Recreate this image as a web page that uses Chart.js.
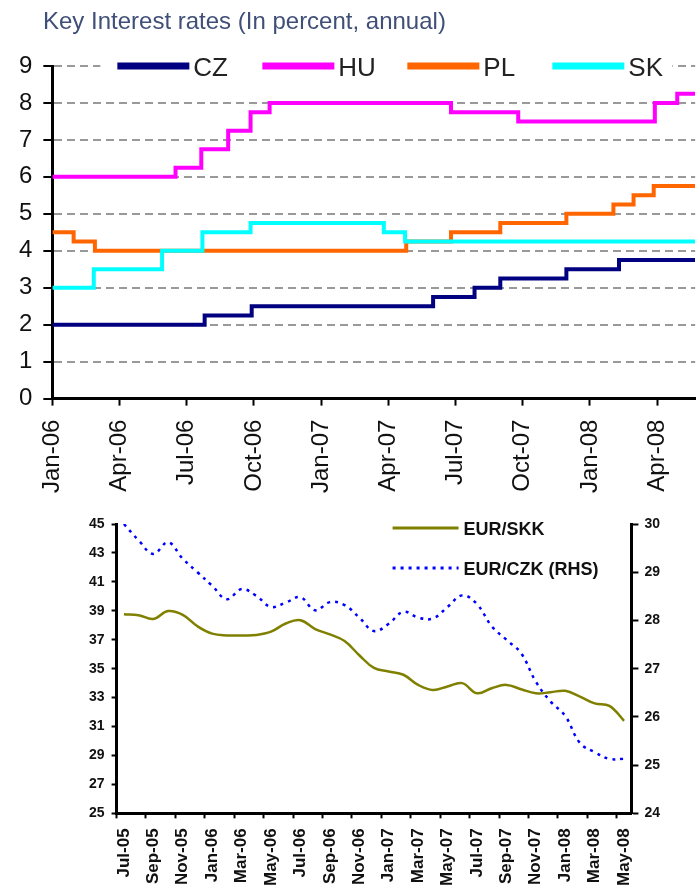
<!DOCTYPE html>
<html>
<head>
<meta charset="utf-8">
<script src="https://cdn.jsdelivr.net/npm/chart.js@4.4.1/dist/chart.umd.min.js"></script>
<style>
  body { margin: 0; width: 700px; height: 893px; overflow: hidden; background: #fff; }
  #rates { position: absolute; left: 0; top: 0; z-index: 2; }
  #fx { position: absolute; left: 0; top: 495px; z-index: 1; }
</style>
</head>
<body>
<canvas id="rates" width="700" height="507"></canvas>
<canvas id="fx" width="700" height="420"></canvas>
<script>
// key rates: month (0 = Jan-06) at which a rate starts, and the rate itself
const czStart = [0, 6.8, 8.9, 17.0, 18.85, 20.0, 22.95, 25.3];
const czRate  = [2.0, 2.25, 2.5, 2.75, 3.0, 3.25, 3.5, 3.75];
const huStart = [0, 5.5, 6.65, 7.85, 8.85, 9.7, 17.8, 20.8, 26.9, 27.9];
const huRate  = [6.0, 6.25, 6.75, 7.25, 7.75, 8.0, 7.75, 7.5, 8.0, 8.25];
const plStart = [0, 0.95, 1.9, 15.8, 17.8, 20.0, 22.95, 25.05, 25.95, 26.85];
const plRate  = [4.5, 4.25, 4.0, 4.25, 4.5, 4.75, 5.0, 5.25, 5.5, 5.75];
const skStart = [0, 1.85, 4.9, 6.7, 8.85, 14.8, 15.75];
const skRate  = [3.0, 3.5, 4.0, 4.5, 4.75, 4.5, 4.25];
const rateEnd = 28.7;
const rateTickLabels = ['Jan-06', 'Apr-06', 'Jul-06', 'Oct-06', 'Jan-07', 'Apr-07',
                        'Jul-07', 'Oct-07', 'Jan-08', 'Apr-08'];

// exchange rates, monthly
const fxMonths = ['Jul-05', 'Aug-05', 'Sep-05', 'Oct-05', 'Nov-05', 'Dec-05',
                  'Jan-06', 'Feb-06', 'Mar-06', 'Apr-06', 'May-06', 'Jun-06',
                  'Jul-06', 'Aug-06', 'Sep-06', 'Oct-06', 'Nov-06', 'Dec-06',
                  'Jan-07', 'Feb-07', 'Mar-07', 'Apr-07', 'May-07', 'Jun-07',
                  'Jul-07', 'Aug-07', 'Sep-07', 'Oct-07', 'Nov-07', 'Dec-07',
                  'Jan-08', 'Feb-08', 'Mar-08', 'Apr-08', 'May-08'];
const eurSkk = [38.77, 38.7, 38.44, 38.98, 38.72, 37.93, 37.42, 37.3, 37.3, 37.33,
                37.56, 38.12, 38.35, 37.74, 37.37, 36.91, 35.93, 35.05, 34.81, 34.58,
                33.88, 33.53, 33.77, 34.0, 33.3, 33.65, 33.88, 33.58, 33.3, 33.37,
                33.47, 33.07, 32.6, 32.43, 31.4];
const eurCzk = [30.0, 29.66, 29.38, 29.62, 29.28, 29.0, 28.72, 28.44, 28.65, 28.51,
                28.28, 28.37, 28.48, 28.21, 28.38, 28.32, 28.06, 27.78, 27.93, 28.18,
                28.06, 28.04, 28.28, 28.52, 28.34, 27.88, 27.6, 27.32, 26.73, 26.32,
                26.02, 25.46, 25.27, 25.13, 25.13];

Chart.defaults.font.family = '"Liberation Sans", Arial, sans-serif';
Chart.defaults.color = '#111';

function steps(starts, rates) {
    const pts = starts.map((x, i) => ({x: x, y: rates[i]}));
    pts.push({x: rateEnd, y: rates[rates.length - 1]});
    return pts;
}

// title + legend sitting on the top gridline
const ratesDecor = {
    id: 'ratesDecor',
    afterDraw(chart) {
        const ctx = chart.ctx;
        const left = chart.chartArea.left;
        ctx.save();
        ctx.font = '24px "Liberation Sans", Arial, sans-serif';
        ctx.fillStyle = '#404f78';
        ctx.fillText('Key Interest rates (In percent, annual)', 43, 29);

        const y = chart.scales.y.getPixelForValue(9);
        ctx.fillStyle = '#fff';
        ctx.fillRect(left + 48, y - 14, 572, 28);
        ctx.font = '26px "Liberation Sans", Arial, sans-serif';
        chart.data.datasets.forEach((ds, i) => {
            const x0 = left + 65 + i * 145;
            ctx.strokeStyle = ds.borderColor;
            ctx.lineWidth = 7;
            ctx.beginPath();
            ctx.moveTo(x0, y);
            ctx.lineTo(x0 + 72, y);
            ctx.stroke();
            ctx.fillStyle = '#222';
            ctx.fillText(ds.label, x0 + 76, y + 10);
        });
        ctx.restore();
    }
};

new Chart(document.getElementById('rates'), {
    type: 'line',
    data: {
        datasets: [
            {label: 'CZ', data: steps(czStart, czRate), borderColor: '#000080', order: 0},
            {label: 'HU', data: steps(huStart, huRate), borderColor: '#ff00ff', order: 0},
            {label: 'PL', data: steps(plStart, plRate), borderColor: '#ff6600', order: 2},
            {label: 'SK', data: steps(skStart, skRate), borderColor: '#00ffff', order: 1}
        ]
    },
    options: {
        responsive: false,
        animation: false,
        elements: {
            line: {borderWidth: 4, stepped: true, tension: 0},
            point: {radius: 0}
        },
        layout: {padding: {left: 8, right: 2, top: 66, bottom: 0}},
        plugins: {
            legend: {display: false},
            tooltip: {enabled: false}
        },
        scales: {
            x: {
                type: 'linear',
                min: 0,
                max: rateEnd,
                ticks: {
                    stepSize: 3,
                    includeBounds: false,
                    autoSkip: false,
                    minRotation: 90,
                    maxRotation: 90,
                    padding: 14,
                    font: {size: 24},
                    callback: v => rateTickLabels[Math.round(v / 3)]
                },
                grid: {drawOnChartArea: false, tickLength: 7, tickWidth: 2, tickColor: '#000'},
                border: {color: '#000', width: 3}
            },
            y: {
                min: 0,
                max: 9,
                ticks: {stepSize: 1, padding: 11, font: {size: 24}},
                grid: {
                    color: c => c.tick && c.tick.value === 0 ? 'rgba(0,0,0,0)' : '#999',
                    lineWidth: 2,
                    tickLength: 9,
                    tickWidth: 2,
                    tickColor: '#000'
                },
                border: {color: '#000', width: 3, dash: [8, 5]}
            }
        }
    },
    plugins: [ratesDecor]
});

// legend inside the top of the plot
const fxLegend = {
    id: 'fxLegend',
    afterDraw(chart) {
        const ctx = chart.ctx;
        const {left, top} = chart.chartArea;
        ctx.save();
        ctx.font = 'bold 18px "Liberation Sans", Arial, sans-serif';
        chart.data.datasets.forEach((ds, i) => {
            const x0 = left + 276;
            const y = top + 4 + i * 40;
            ctx.strokeStyle = ds.borderColor;
            ctx.lineWidth = 3;
            ctx.setLineDash(ds.borderDash || []);
            ctx.beginPath();
            ctx.moveTo(x0, y);
            ctx.lineTo(x0 + 66, y);
            ctx.stroke();
            ctx.fillStyle = '#111';
            ctx.fillText(ds.label, x0 + 71, y + 7);
        });
        ctx.restore();
    }
};

new Chart(document.getElementById('fx'), {
    type: 'line',
    data: {
        labels: fxMonths,
        datasets: [
            {label: 'EUR/SKK', data: eurSkk, yAxisID: 'y', borderColor: '#808000',
             borderWidth: 2.5, tension: 0.4},
            {label: 'EUR/CZK (RHS)', data: eurCzk, yAxisID: 'y1', borderColor: '#0000ff',
             borderWidth: 2.5, borderDash: [3, 5], tension: 0.4}
        ]
    },
    options: {
        responsive: false,
        animation: false,
        elements: {point: {radius: 0}},
        layout: {padding: {left: 82, right: 34, top: 29, bottom: 19}},
        plugins: {
            legend: {display: false},
            tooltip: {enabled: false}
        },
        scales: {
            x: {
                offset: true,
                ticks: {
                    autoSkip: false,
                    minRotation: 90,
                    maxRotation: 90,
                    padding: 10,
                    font: {size: 17, weight: 'bold'},
                    callback: function (v, i) {
                        return i % 2 === 0 ? this.getLabelForValue(v) : '';
                    }
                },
                grid: {
                    offset: true,
                    drawOnChartArea: false,
                    tickLength: 5,
                    tickWidth: 2,
                    tickColor: c => c.index % 2 === 0 ? '#000' : 'rgba(0,0,0,0)'
                },
                border: {color: '#000', width: 3}
            },
            y: {
                position: 'left',
                min: 25,
                max: 45,
                ticks: {stepSize: 2, padding: 7, font: {size: 14, weight: 'bold'}},
                grid: {drawOnChartArea: false, tickLength: 5, tickWidth: 2, tickColor: '#000'},
                border: {color: '#000', width: 3}
            },
            y1: {
                position: 'right',
                min: 24,
                max: 30,
                ticks: {stepSize: 1, padding: 6, font: {size: 14, weight: 'bold'}},
                grid: {drawOnChartArea: false, tickLength: 7, tickWidth: 2, tickColor: '#000'},
                border: {color: '#000', width: 3}
            }
        }
    },
    plugins: [fxLegend]
});
</script>
</body>
</html>
